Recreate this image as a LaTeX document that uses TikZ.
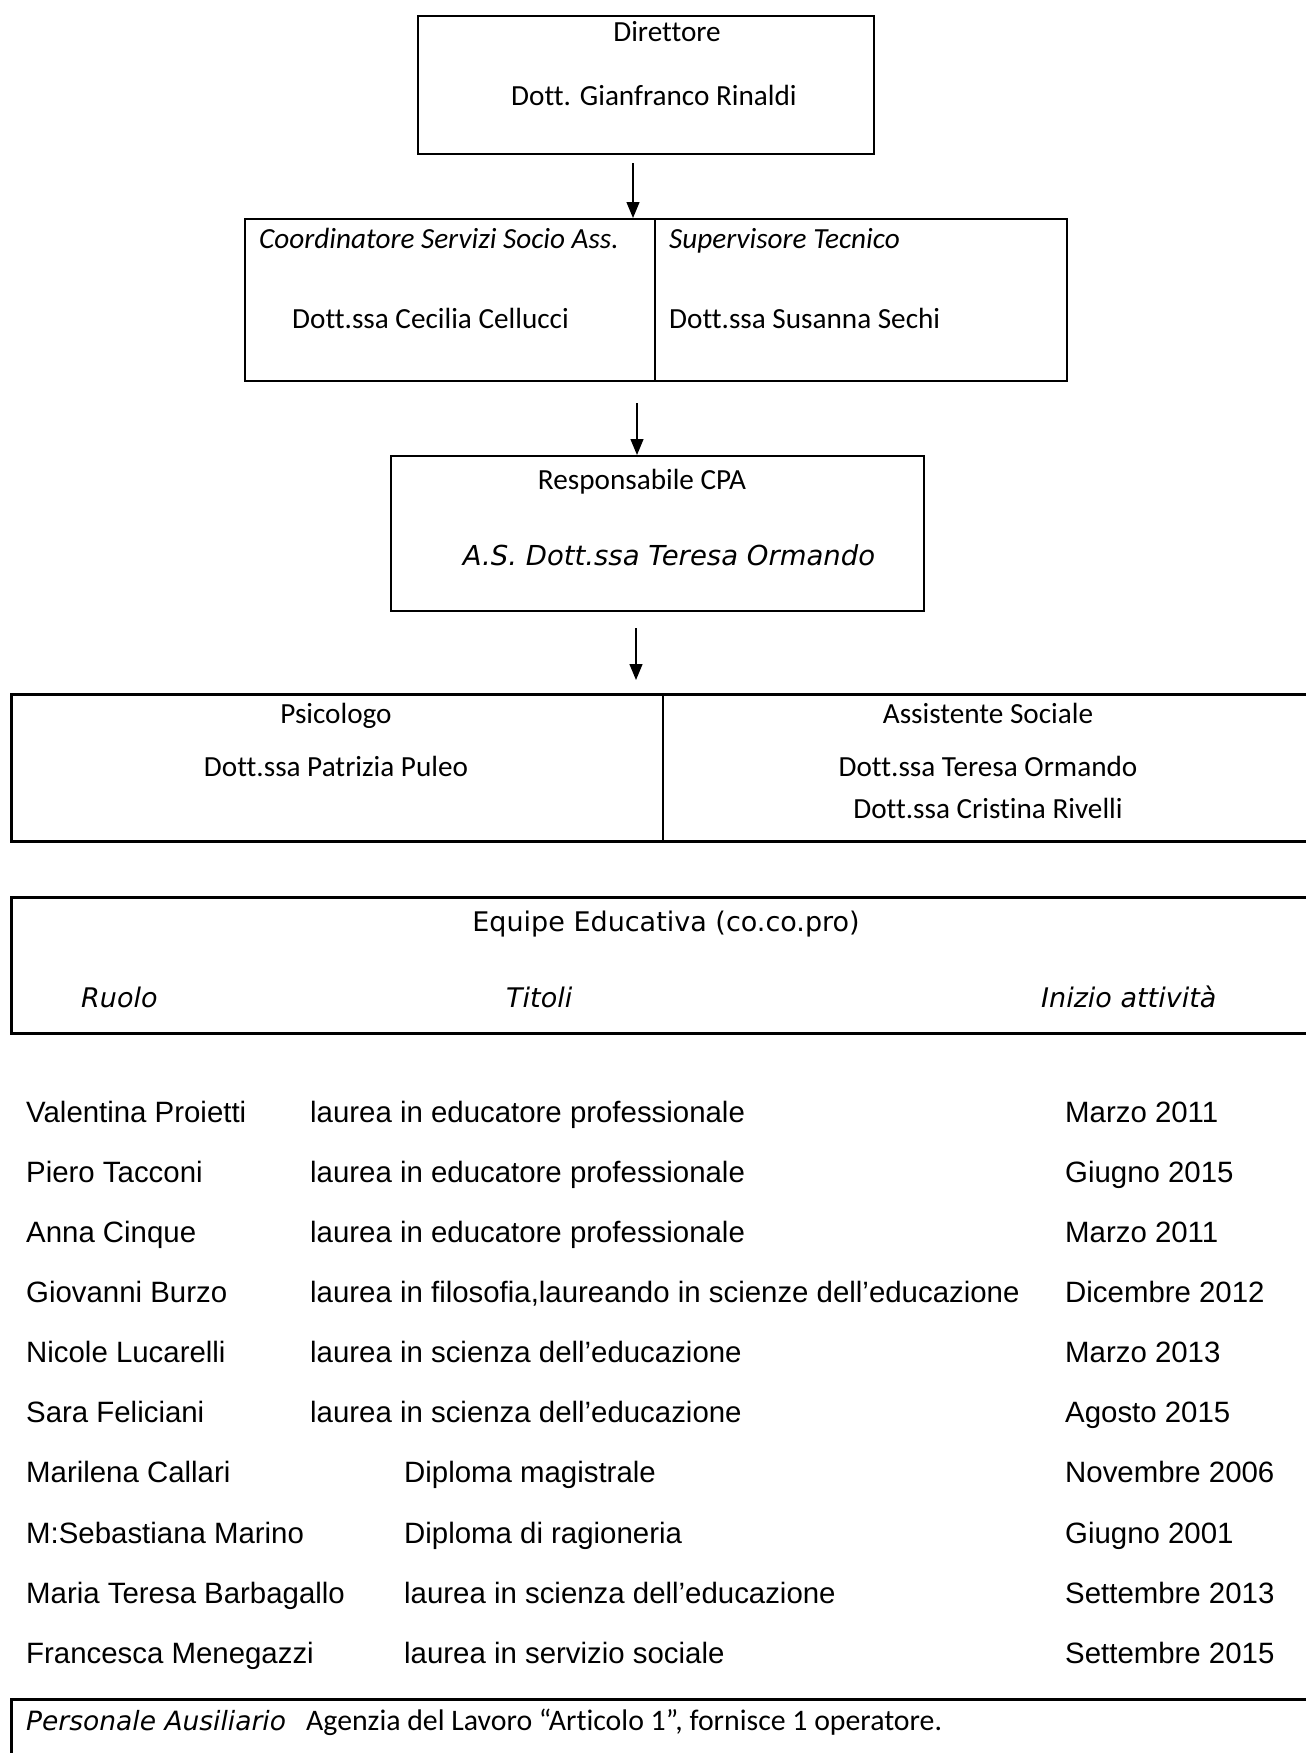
\documentclass[tikz,border=0pt]{standalone}
\usepackage{fontspec}
\setmainfont{Carlito}[Ligatures=NoCommon]
\newfontfamily\arialf{Liberation Sans}
\newfontfamily\verd{DejaVu Sans}
\usetikzlibrary{arrows.meta}
\begin{document}
\begin{tikzpicture}[x=1pt,y=-1pt,
  box/.style={draw, line width=2pt, inner sep=0pt, anchor=north west},
  wbox/.style={draw, line width=2.6pt, inner sep=0pt, anchor=north west},
  cal/.style={inner sep=0pt, font=\fontsize{29.2}{34}\selectfont},
  calc/.style={cal, anchor=base},
  calw/.style={cal, anchor=base west},
  ver/.style={inner sep=0pt, font=\verd\fontsize{27}{32}\selectfont},
  veri/.style={inner sep=0pt, anchor=base west, font=\verd\itshape\fontsize{27}{32}\selectfont},
  row/.style={inner sep=0pt, anchor=base west, font=\arialf\fontsize{29.4}{34}\selectfont},
  arr/.style={line width=1.3pt, -{Triangle[length=16pt,width=13pt]}}]
\useasboundingbox (0,0) rectangle (1306,1753);
\clip (0,0) rectangle (1306,1753);
\fill[white] (0,0) rectangle (1306,1753);

% Direttore
\node[box, minimum width=456pt, minimum height=138pt] (dir) at (417,15) {};
\node[calc] (dirT) at (667,42) {Direttore};
\node[calc] (dirN) at (654,105) {Dott. Gianfranco Rinaldi};

% Coordinatore / Supervisore
\node[box, minimum width=822pt, minimum height=162pt] (sec) at (244,218) {};
\coordinate (d1) at (655,0);
\draw[line width=2pt] (sec.north -| d1) -- (sec.south -| d1);
\node[calw, font=\fontsize{29.2}{34}\selectfont\itshape] (coT) at (259,248) {Coordinatore Servizi Socio Ass.};
\node[calw] (coN) at (292,328) {Dott.ssa Cecilia Cellucci};
\node[calw, font=\fontsize{29.2}{34}\selectfont\itshape] (suT) at (669,248) {Supervisore Tecnico};
\node[calw] (suN) at (669,328) {Dott.ssa Susanna Sechi};

% Responsabile
\node[box, minimum width=533pt, minimum height=155pt] (resp) at (390,455) {};
\node[calc] (reT) at (642,489) {Responsabile CPA};
\node[ver, anchor=base, font=\verd\itshape\fontsize{27.5}{32}\selectfont] (reN) at (669,565) {A.S. Dott.ssa Teresa Ormando};

% Psicologo / Assistente Sociale
\node[wbox, minimum width=1310pt, minimum height=147pt] (psi) at (10,693) {};
\coordinate (d2) at (663,0);
\draw[line width=2pt] (psi.north -| d2) -- (psi.south -| d2);
\node[calc] (psT) at (336,723) {Psicologo};
\node[calc] (psN) at (336,776) {Dott.ssa Patrizia Puleo};
\node[calc] (asT) at (988,723) {Assistente Sociale};
\node[calc] (asN1) at (988,776) {Dott.ssa Teresa Ormando};
\node[calc] (asN2) at (988,818) {Dott.ssa Cristina Rivelli};

% Equipe
\node[wbox, minimum width=1310pt, minimum height=136pt] (eq) at (10,896) {};
\node[ver, anchor=base] (eqT) at (666,931) {Equipe Educativa (co.co.pro)};
\node[veri] (eqR) at (81,1007) {Ruolo};
\node[veri] (eqTi) at (506,1007) {Titoli};
\node[veri] (eqI) at (1041,1007) {Inizio attività};

% table rows
\foreach \rnam/\rtit/\rdat/\rx [count=\i from 0] in {
 {Valentina Proietti}/{laurea in educatore professionale}/{Marzo 2011}/310,
 {Piero Tacconi}/{laurea in educatore professionale}/{Giugno 2015}/310,
 {Anna Cinque}/{laurea in educatore professionale}/{Marzo 2011}/310,
 {Giovanni Burzo}/{laurea in filosofia,laureando in scienze dell’educazione}/{Dicembre 2012}/310,
 {Nicole Lucarelli}/{laurea in scienza dell’educazione}/{Marzo 2013}/310,
 {Sara Feliciani}/{laurea in scienza dell’educazione}/{Agosto 2015}/310,
 {Marilena Callari}/{Diploma magistrale}/{Novembre 2006}/404,
 {M:Sebastiana Marino}/{Diploma di ragioneria}/{Giugno 2001}/404,
 {Maria Teresa Barbagallo}/{laurea in scienza dell’educazione}/{Settembre 2013}/404,
 {Francesca Menegazzi}/{laurea in servizio sociale}/{Settembre 2015}/404}{
 \pgfmathsetmacro{\yy}{1122+60.15*\i}
 \node[row] (n\i) at (26,\yy) {\rnam};
 \node[row] (t\i) at (\rx,\yy) {\rtit};
 \node[row] (d\i) at (1065,\yy) {\rdat};
}

% Personale Ausiliario
\node[wbox, minimum width=1310pt, minimum height=100pt] (pers) at (10,1698) {};
\node[veri, font=\verd\itshape\fontsize{26.5}{32}\selectfont] (peT) at (26,1730) {Personale Ausiliario};
\node[calw, font=\fontsize{29.8}{34}\selectfont] (peN) at (306,1730) {Agenzia del Lavoro “Articolo 1”, fornisce 1 operatore.};

% arrows
\coordinate (a1) at (633,163);
\draw[arr] (a1) -- (a1 |- sec.north);
\coordinate (a2) at (637,403);
\draw[arr] (a2) -- (a2 |- resp.north);
\coordinate (a3) at (636,628);
\coordinate (a3e) at (636,680);
\draw[arr] (a3) -- (a3e);
\end{tikzpicture}
\end{document}
